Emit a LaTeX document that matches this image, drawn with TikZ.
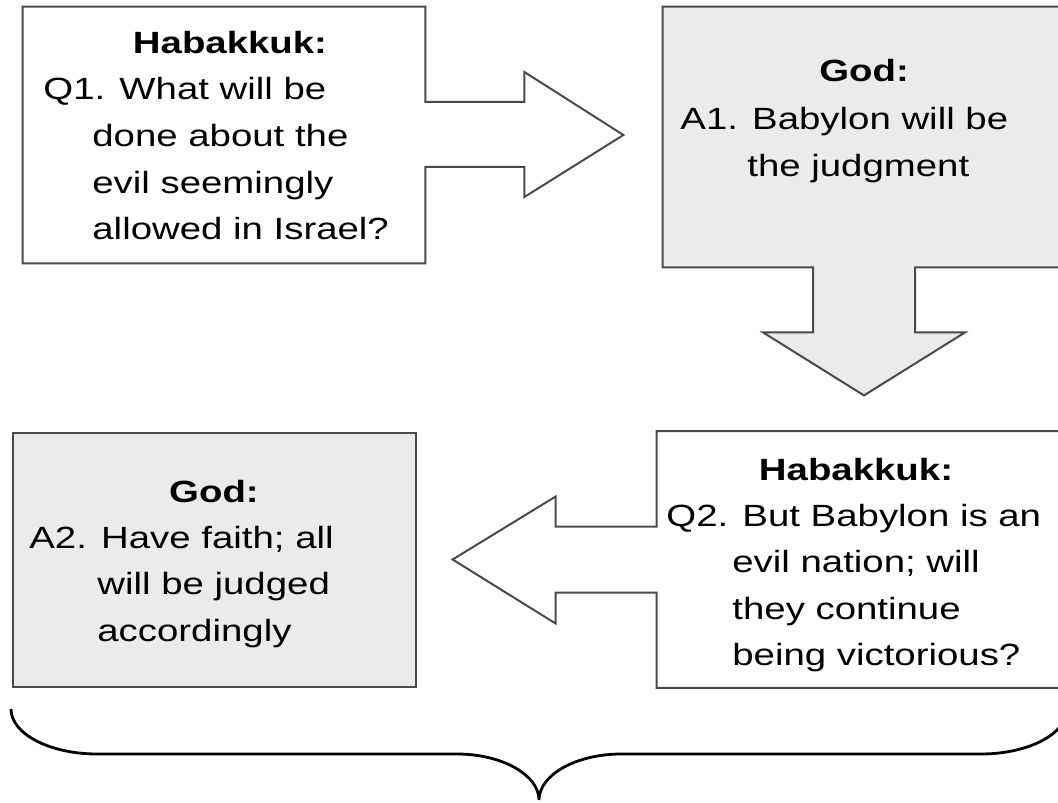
\documentclass[tikz,border=0pt]{standalone}
\usepackage{fontspec}
\setmainfont{Liberation Sans}[FakeStretch=1.25]
\usepackage{tikz}
\usetikzlibrary{positioning,calc}
\definecolor{boxgray}{HTML}{EBEBEB}
\definecolor{edgegray}{HTML}{4A4A4A}
\newcommand{\bodyfont}{\fontsize{15.35}{23.3}\selectfont}

\begin{document}
\begin{tikzpicture}[x=0.5pt, y=-0.5pt,
    frame/.style={inner sep=0pt, minimum width=201pt, minimum height=128pt},
    outline/.style={draw=edgegray, line width=1pt, line join=miter},
    head/.style={anchor=base, inner sep=0pt, font=\bodyfont\bfseries},
    body/.style={anchor=base west, inner sep=0pt, font=\bodyfont}]
    \useasboundingbox (0,0) rectangle (1058,802);

    % Boxes
    \node[frame] (q1) at (224,135) {};
    \node[frame, minimum height=130pt] (a1) at (864,137) {};
    \node[frame, minimum width=203pt] (q2) at (860,559.5) {};
    \node[frame, minimum height=127pt] (a2) at (214.5,560) {};

    % Q1 with arrow to the right
    \draw[outline, fill=white] (q1.north west) -- (q1.north east)
        -- ($(q1.east)+(0,-33)$) -- ($(q1.east)+(99,-33)$) -- ($(q1.east)+(99,-63)$)
        -- ($(q1.east)+(198,0)$)
        -- ($(q1.east)+(99,62)$) -- ($(q1.east)+(99,32)$) -- ($(q1.east)+(0,32)$)
        -- (q1.south east) -- (q1.south west) -- cycle;

    % A1 with arrow down
    \draw[outline, fill=boxgray] (a1.north west) -- (a1.north east) -- (a1.south east)
        -- ($(a1.south)+(51,0)$) -- ($(a1.south)+(51,65)$) -- ($(a1.south)+(101,65)$)
        -- ($(a1.south)+(0,128)$)
        -- ($(a1.south)+(-101,65)$) -- ($(a1.south)+(-51,65)$) -- ($(a1.south)+(-51,0)$)
        -- (a1.south west) -- cycle;

    % Q2 with arrow to the left
    \draw[outline, fill=white] (q2.north west) -- (q2.north east) -- (q2.south east)
        -- (q2.south west)
        -- ($(q2.west)+(0,33)$) -- ($(q2.west)+(-101,33)$) -- ($(q2.west)+(-101,64)$)
        -- ($(q2.west)+(-204,0)$)
        -- ($(q2.west)+(-101,-63)$) -- ($(q2.west)+(-101,-33)$) -- ($(q2.west)+(0,-33)$)
        -- cycle;

    % A2
    \draw[outline, fill=boxgray] (a2.north west) rectangle (a2.south east);

    % Texts
    \node[head] (q1h) at (230,54) {Habakkuk:};
    \node[body] (q1t) at (43,100) {\begin{tabular}[t]{@{}l@{}}
        Q1. What will be\\
        \hspace*{24.5pt}done about the\\
        \hspace*{24.5pt}evil seemingly\\
        \hspace*{24.5pt}allowed in Israel?\end{tabular}};

    \node[head] (a1h) at (864,82) {God:};
    \node[body] (a1t) at (680,130) {\begin{tabular}[t]{@{}l@{}}
        A1. Babylon will be\\
        \hspace*{33.5pt}the judgment\end{tabular}};

    \node[head] (q2h) at (856,480) {Habakkuk:};
    \node[body] (q2t) at (666,526) {\begin{tabular}[t]{@{}l@{}}
        Q2. But Babylon is an\\
        \hspace*{33pt}evil nation; will\\
        \hspace*{33pt}they continue\\
        \hspace*{33pt}being victorious?\end{tabular}};

    \node[head] (a2h) at (214,502) {God:};
    \node[body] (a2t) at (29,548) {\begin{tabular}[t]{@{}l@{}}
        A2. Have faith; all\\
        \hspace*{34pt}will be judged\\
        \hspace*{34pt}accordingly\end{tabular}};

    % Brace
    \draw[line width=1.4pt] (11,709) .. controls (11,734) and (50,754) .. (97,754)
        -- (457,754) .. controls (502,754) and (539,775) .. (539,800)
        .. controls (539,775) and (576,754) .. (621,754)
        -- (981,754) .. controls (1028,754) and (1067,734) .. (1067,709);
\end{tikzpicture}
\end{document}
